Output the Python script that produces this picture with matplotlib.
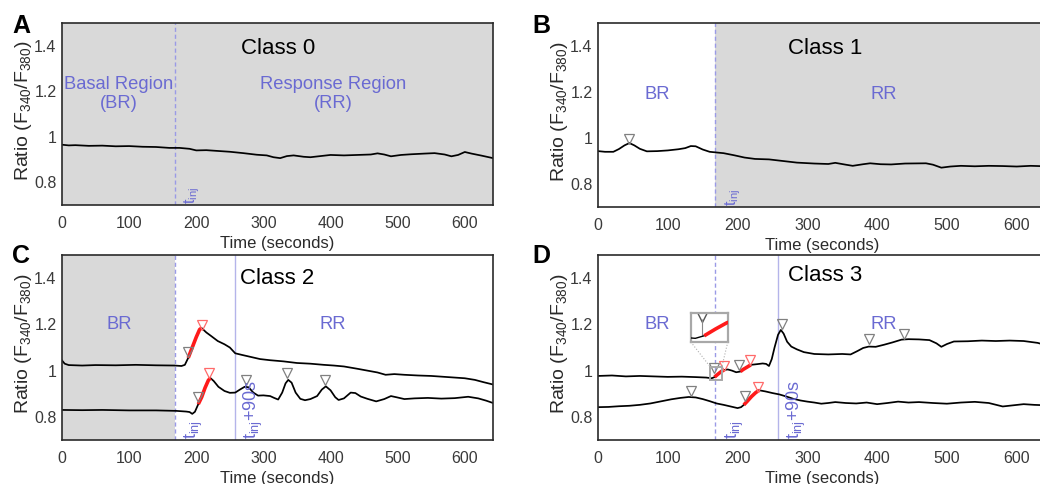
import numpy as np
import matplotlib
matplotlib.use("Agg")
import matplotlib.pyplot as plt

plt.rcParams['font.family'] = ['Liberation Sans', 'DejaVu Sans']
plt.rcParams['mathtext.default'] = 'regular'

# ---------------- data ----------------
T_INJ = 168
T_INJ90 = 258
XMAX = 642

# Panel A (Class 0)
a_t = [0, 10, 20, 40, 60, 80, 100, 120, 140, 160, 175, 190, 200, 215, 230, 250, 270, 290, 305, 315,
       325, 335, 345, 360, 370, 385, 400, 420, 440, 460, 470, 480, 490, 505, 520, 540, 555, 570, 580,
       590, 600, 610, 625, 642]
a_v = [0.965, 0.962, 0.963, 0.960, 0.961, 0.958, 0.959, 0.956, 0.955, 0.951, 0.951, 0.947, 0.940,
       0.941, 0.938, 0.934, 0.928, 0.921, 0.918, 0.910, 0.906, 0.915, 0.918, 0.912, 0.910, 0.915,
       0.920, 0.918, 0.920, 0.922, 0.927, 0.922, 0.914, 0.920, 0.923, 0.926, 0.928, 0.922, 0.914,
       0.920, 0.933, 0.926, 0.917, 0.906]

# Panel B (Class 1)
b_t = [0, 10, 22, 30, 38, 45, 52, 60, 70, 85, 100, 115, 125, 133, 140, 150, 160, 170, 180, 195, 210,
       225, 245, 265, 285, 310, 330, 340, 355, 365, 380, 390, 405, 420, 440, 470, 480, 492, 505, 520,
       540, 560, 580, 600, 620, 642]
b_v = [0.943, 0.940, 0.940, 0.952, 0.968, 0.978, 0.968, 0.953, 0.942, 0.943, 0.946, 0.951, 0.956,
       0.965, 0.964, 0.950, 0.940, 0.937, 0.934, 0.925, 0.915, 0.909, 0.907, 0.900, 0.893, 0.889,
       0.887, 0.892, 0.884, 0.879, 0.886, 0.890, 0.886, 0.885, 0.889, 0.890, 0.884, 0.871, 0.876,
       0.879, 0.877, 0.879, 0.878, 0.876, 0.879, 0.877]
b_peaks_t = [45]
b_peaks_v = [0.995]

# Panel C (Class 2) upper trace
c1_t = [0, 4, 10, 30, 50, 80, 110, 140, 168, 178, 183, 188, 194, 200, 205, 208, 215, 222, 232, 242,
        250, 258, 268, 280, 295, 310, 330, 350, 370, 390, 405, 420, 440, 455, 470, 482, 495, 510,
        530, 550, 575, 600, 615, 628, 642]
c1_v = [1.044, 1.030, 1.024, 1.022, 1.024, 1.023, 1.025, 1.023, 1.022, 1.020, 1.025, 1.055, 1.100,
        1.145, 1.178, 1.184, 1.165, 1.150, 1.128, 1.114, 1.100, 1.075, 1.068, 1.060, 1.050, 1.045,
        1.040, 1.033, 1.030, 1.025, 1.022, 1.018, 1.008, 1.000, 0.992, 0.982, 0.985, 0.982, 0.979,
        0.977, 0.972, 0.967, 0.960, 0.950, 0.940]
c1_red = (188, 208)
c1_grey_t, c1_grey_v = [187], [1.080]
c1_red_t, c1_red_v = [208], [1.198]

# Panel C lower trace
c2_t = [0, 30, 60, 100, 140, 170, 185, 190, 194, 198, 203, 208, 213, 218, 221, 226, 233, 242, 250,
        258, 265, 272, 278, 285, 292, 300, 310, 316, 322, 328, 333, 337, 342, 348, 355, 362, 370, 380,
        387, 393, 400, 407, 412, 420, 430, 437, 445, 455, 468, 480, 490, 498, 510, 525, 545, 565, 585,
        605, 620, 632, 642]
c2_v = [0.830, 0.829, 0.830, 0.828, 0.828, 0.826, 0.823, 0.821, 0.813, 0.822, 0.855, 0.885, 0.925,
        0.958, 0.968, 0.955, 0.930, 0.912, 0.904, 0.905, 0.918, 0.930, 0.928, 0.905, 0.892, 0.893,
        0.890, 0.882, 0.875, 0.905, 0.945, 0.960, 0.948, 0.905, 0.878, 0.872, 0.877, 0.890, 0.918,
        0.932, 0.915, 0.885, 0.873, 0.880, 0.905, 0.903, 0.888, 0.878, 0.867, 0.877, 0.890, 0.885,
        0.877, 0.880, 0.882, 0.879, 0.881, 0.887, 0.880, 0.870, 0.860]
c2_red = (203, 221)
c2_grey_t, c2_grey_v = [203, 274, 335, 392], [0.887, 0.961, 0.991, 0.961]
c2_red_t, c2_red_v = [219], [0.988]

# Panel D (Class 3) upper trace
d1_t = [0, 20, 40, 60, 80, 100, 120, 140, 155, 163, 167, 172, 177, 181, 186, 192, 198, 204, 208, 213,
        219, 228, 236, 241, 245, 249, 253, 258, 262, 266, 271, 277, 285, 295, 310, 330, 350, 362, 372,
        380, 388, 398, 410, 422, 435, 445, 460, 475, 485, 492, 500, 510, 530, 550, 570, 590, 610, 630,
        642]
d1_v = [0.977, 0.979, 0.975, 0.977, 0.975, 0.973, 0.974, 0.972, 0.970, 0.967, 0.972, 0.985, 0.997,
        1.003, 1.005, 1.000, 0.993, 0.996, 1.005, 1.014, 1.025, 1.028, 1.031, 1.029, 1.020, 1.050,
        1.100, 1.155, 1.176, 1.160, 1.125, 1.104, 1.092, 1.080, 1.072, 1.070, 1.072, 1.070, 1.085,
        1.098, 1.104, 1.103, 1.112, 1.122, 1.134, 1.136, 1.135, 1.132, 1.118, 1.103, 1.115, 1.126,
        1.127, 1.130, 1.128, 1.130, 1.128, 1.120, 1.110]
d1_reds = [(167, 181), (204, 219)]
d1_grey_t, d1_grey_v = [166, 202, 263, 389, 439], [1.010, 1.025, 1.200, 1.135, 1.157]
d1_red_t, d1_red_v = [181, 218], [1.020, 1.047]

# Panel D lower trace
d2_t = [0, 15, 30, 45, 60, 75, 90, 105, 118, 130, 140, 150, 160, 170, 180, 190, 200, 205, 209, 214,
        220, 226, 231, 240, 250, 260, 270, 280, 290, 300, 310, 320, 330, 340, 355, 370, 385, 400, 415,
        430, 445, 460, 480, 500, 520, 540, 560, 580, 595, 610, 625, 642]
d2_v = [0.842, 0.843, 0.846, 0.848, 0.852, 0.858, 0.867, 0.876, 0.882, 0.886, 0.884, 0.877, 0.868,
        0.858, 0.852, 0.845, 0.838, 0.842, 0.852, 0.868, 0.888, 0.905, 0.915, 0.910, 0.903, 0.897,
        0.888, 0.878, 0.871, 0.866, 0.862, 0.857, 0.860, 0.864, 0.860, 0.858, 0.862, 0.855, 0.860,
        0.866, 0.862, 0.864, 0.860, 0.857, 0.862, 0.865, 0.860, 0.845, 0.850, 0.855, 0.852, 0.850]
d2_red = (209, 231)
d2_grey_t, d2_grey_v = [133, 210], [0.911, 0.890]
d2_red_t, d2_red_v = [230], [0.930]

xticks = [0, 100, 200, 300, 400, 500, 600]
yticks = [0.8, 1.0, 1.2, 1.4]
ytick_labels = ['0.8', '1', '1.2', '1.4']

# ---------------- style ----------------
BLUE = '#6a6ad2'
VLINE1 = '#9a9ae6'
VLINE2 = '#b4b4ea'
SHADE = '#d9d9d9'
GREY_MK = '#808080'
RED = '#ff1a1a'
RED_MK = '#ff6a6a'

W, H = 1040, 484
fig = plt.figure(figsize=(W / 100, H / 100), dpi=100)


def px_axes(left, top, right, bottom):
    return fig.add_axes([left / W, 1 - bottom / H, (right - left) / W, (bottom - top) / H])


axA = px_axes(62, 23, 493, 205)
axB = px_axes(598, 23, 598 + 448, 207)
axC = px_axes(62, 255, 493, 440)
axD = px_axes(598, 255, 598 + 448, 440)


def style(ax, width_px, height_px):
    ax.set_xlim(0, XMAX)
    ax.set_ylim(0.7, 1.5)
    ax.set_xticks(xticks)
    ax.set_yticks(yticks)
    ax.set_yticklabels(ytick_labels)
    ax.tick_params(length=0, labelsize=11.5, labelcolor='#3a3a3a')
    ax.tick_params(axis='x', pad=8)
    ax.tick_params(axis='y', pad=4)
    for s in ax.spines.values():
        s.set_color('#2a2a2a')
        s.set_linewidth(1.2)
        s.set_zorder(10)
    ax.set_xlabel('Time (seconds)', fontsize=12, color='#2a2a2a')
    ax.xaxis.set_label_coords(0.5, -31 / height_px)
    ax.set_ylabel('Ratio (F$_{340}$/F$_{380}$)', fontsize=14, color='#2a2a2a')
    ax.yaxis.set_label_coords(-28 / width_px, 0.52)


def trace(ax, t, v, reds=()):
    ax.plot(t, v, color='black', lw=1.25, zorder=3)
    t = np.asarray(t)
    v = np.asarray(v)
    for (r0, r1) in reds:
        m = (t >= r0) & (t <= r1)
        ax.plot(t[m], v[m], color=RED, lw=2.6, zorder=4, solid_capstyle='butt')


def peaks(ax, t, v, color):
    ax.plot(t, v, linestyle='none', marker='v', markersize=7.5, markerfacecolor='none',
            markeredgecolor=color, markeredgewidth=0.9, zorder=5)


def tinj(ax, with90, fs):
    ax.axvline(T_INJ, color=VLINE1, lw=1.0, ls=(0, (3, 2)), zorder=2)
    ax.text(T_INJ + 12, 0.705, 't$_{inj}$', rotation=90, color=BLUE, fontsize=fs,
            ha='left', va='bottom', zorder=6)
    if with90:
        ax.axvline(T_INJ90, color=VLINE2, lw=1.0, zorder=2)
        ax.text(T_INJ90 + 10, 0.705, 't$_{inj}$+90s', rotation=90, color=BLUE, fontsize=fs,
                ha='left', va='bottom', zorder=6)


# Panel A
style(axA, 431, 182)
axA.set_facecolor(SHADE)
tinj(axA, False, 11.5)
trace(axA, a_t, a_v)
axA.text(322, 1.39, 'Class 0', fontsize=16, ha='center', va='center', color='black')
axA.text(84, 1.19, 'Basal Region\n(BR)', fontsize=13.2, ha='center', va='center', color=BLUE,
         linespacing=1.15)
axA.text(404, 1.19, 'Response Region\n(RR)', fontsize=13.2, ha='center', va='center', color=BLUE,
         linespacing=1.15)

# Panel B
style(axB, 448, 184)
axB.axvspan(T_INJ, XMAX, color=SHADE, lw=0, zorder=0)
tinj(axB, False, 11.5)
trace(axB, b_t, b_v)
peaks(axB, b_peaks_t, b_peaks_v, GREY_MK)
axB.text(325, 1.39, 'Class 1', fontsize=16, ha='center', va='center', color='black')
axB.text(85, 1.19, 'BR', fontsize=13.2, ha='center', va='center', color=BLUE)
axB.text(410, 1.19, 'RR', fontsize=13.2, ha='center', va='center', color=BLUE)

# Panel C
style(axC, 431, 185)
axC.axvspan(0, T_INJ, color=SHADE, lw=0, zorder=0)
tinj(axC, True, 13)
trace(axC, c1_t, c1_v, [c1_red])
trace(axC, c2_t, c2_v, [c2_red])
peaks(axC, c1_grey_t, c1_grey_v, GREY_MK)
peaks(axC, c1_red_t, c1_red_v, RED_MK)
peaks(axC, c2_grey_t, c2_grey_v, GREY_MK)
peaks(axC, c2_red_t, c2_red_v, RED_MK)
axC.text(321, 1.40, 'Class 2', fontsize=16, ha='center', va='center', color='black')
axC.text(85, 1.20, 'BR', fontsize=13.2, ha='center', va='center', color=BLUE)
axC.text(404, 1.20, 'RR', fontsize=13.2, ha='center', va='center', color=BLUE)

# Panel D
style(axD, 448, 185)
tinj(axD, True, 13)
trace(axD, d1_t, d1_v, d1_reds)
trace(axD, d2_t, d2_v, [d2_red])
peaks(axD, d1_grey_t, d1_grey_v, GREY_MK)
peaks(axD, d1_red_t, d1_red_v, RED_MK)
peaks(axD, d2_grey_t, d2_grey_v, GREY_MK)
peaks(axD, d2_red_t, d2_red_v, RED_MK)
axD.text(325, 1.41, 'Class 3', fontsize=16, ha='center', va='center', color='black')
axD.text(85, 1.20, 'BR', fontsize=13.2, ha='center', va='center', color=BLUE)
axD.text(410, 1.20, 'RR', fontsize=13.2, ha='center', va='center', color=BLUE)

# inset zoom in panel D
zx0, zx1, zy0, zy1 = 161, 177.5, 0.960, 1.016
ix0, iy0, iw, ih = 133, 1.124, 53, 0.125
axIn = axD.inset_axes([ix0, iy0, iw, ih], transform=axD.transData)
axIn.set_xlim(zx0, zx1)
axIn.set_ylim(zy0, zy1)
axIn.set_xticks([])
axIn.set_yticks([])
for s in axIn.spines.values():
    s.set_color('#a8a8a8')
    s.set_linewidth(1.6)
trace(axIn, d1_t, d1_v, d1_reds)
axIn.lines[-1].set_linewidth(2.0)
axIn.lines[0].set_linewidth(1.0)
axIn.plot([d1_grey_t[0]], [d1_grey_v[0] - 0.001], linestyle='none', marker='v', markersize=7,
          markerfacecolor='none', markeredgecolor='#555555', markeredgewidth=1.0)
axIn.vlines(d1_grey_t[0], np.interp(d1_grey_t[0], d1_t, d1_v), d1_grey_v[0] - 0.006,
            color='#888888', lw=0.8)
axD.add_patch(plt.Rectangle((zx0, zy0), zx1 - zx0, zy1 - zy0, fill=False,
                            edgecolor='#a8a8a8', lw=1.4, zorder=6))
axD.plot([ix0, zx0], [iy0, zy1], color='#b0b0b0', lw=0.8, ls=':', zorder=6)
axD.plot([ix0 + iw, zx1], [iy0, zy1], color='#b0b0b0', lw=0.8, ls=':', zorder=6)

# panel letters
for lab, (x, y) in zip('ABCD', [(12, 33), (532, 33), (12, 263), (532, 263)]):
    fig.text(x / W, 1 - y / H, lab, fontsize=18, fontweight='bold', ha='left', va='baseline')

fig.savefig('out.png', dpi=100)
